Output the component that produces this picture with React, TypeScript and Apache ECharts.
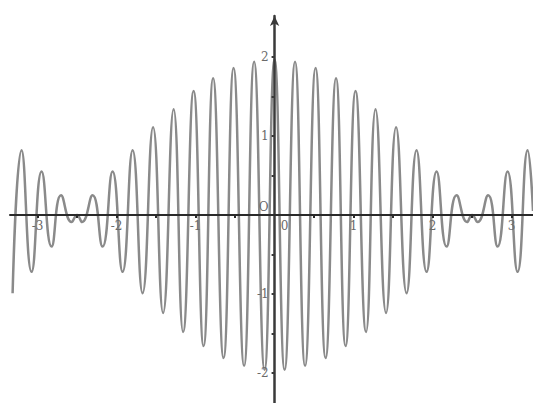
import React, { useEffect, useRef } from "react";
import * as echarts from "echarts";

// Extrema (and node points) of the curve, left to right
const curveX = [
  -3.316, -3.203, -3.076, -2.949, -2.823, -2.703, -2.57, -2.5, -2.437, -2.304, -2.177, -2.051,
  -1.924, -1.797, -1.671, -1.538, -1.411, -1.278, -1.158, -1.025, -0.899, -0.778, -0.646,
  -0.519, -0.386, -0.259, -0.127, 0, 0.127, 0.259, 0.386, 0.519, 0.646, 0.778, 0.899, 1.025,
  1.158, 1.278, 1.411, 1.538, 1.671, 1.797, 1.924, 2.051, 2.177, 2.304, 2.437, 2.5, 2.57,
  2.703, 2.823, 2.949, 3.076, 3.203, 3.271,
];
const curveY = [
  -0.99, 0.82, -0.72, 0.55, -0.4, 0.25, -0.09, 0, -0.09, 0.25, -0.4, 0.55, -0.72, 0.82, -0.99,
  1.11, -1.24, 1.34, -1.48, 1.57, -1.66, 1.73, -1.81, 1.86, -1.91, 1.94, -1.96, 1.97, -1.96,
  1.94, -1.91, 1.86, -1.81, 1.73, -1.66, 1.57, -1.48, 1.34, -1.24, 1.11, -0.99, 0.82, -0.72,
  0.55, -0.4, 0.25, -0.09, 0, -0.09, 0.25, -0.4, 0.55, -0.72, 0.82, 0.05,
];

const xLabelValues = [-3, -2, -1, 0, 1, 2, 3];
const yLabelValues = [-2, -1, 0, 1, 2];
const xTickValues = [-3, -2.5, -2, -1.5, -1, -0.5, 0.5, 1, 1.5, 2, 2.5, 3];
const yTickValues = [-2, -1.5, -1, -0.5, 0.5, 1, 1.5, 2];

const X_MIN = -3.349;
const X_MAX = 3.271;
const Y_MIN = -2.38;
const Y_MAX = 2.519;

export default function App() {
  const ref = useRef<HTMLDivElement>(null);
  useEffect(() => {
    if (!ref.current) return;
    const W = 533;
    const H = 403;
    const gl = 10, gr = 0, gt = 16, gb = 0;
    const chart = echarts.init(ref.current, null, { renderer: "svg" });
    const data = curveX.map((x, i) => [x, curveY[i]]);
    // place the axes through the origin (offset from the grid edges)
    const zeroXpx = gl + ((0 - X_MIN) / (X_MAX - X_MIN)) * (W - gl - gr);
    const zeroYpx = gt + ((Y_MAX - 0) / (Y_MAX - Y_MIN)) * (H - gt - gb);
    const yOffset = -(zeroXpx - gl);
    const xOffset = -(H - gb - zeroYpx);
    const labelStyle = {
      color: "#6a6a6a",
      fontFamily: "DejaVu Serif",
      fontSize: 12,
    };
    chart.setOption({
      animation: false,
      backgroundColor: "#ffffff",
      grid: { left: gl, right: gr, top: gt, bottom: gb, outerBoundsMode: "none", containLabel: false },
      xAxis: {
        type: "value",
        position: "bottom",
        offset: xOffset,
        min: X_MIN,
        max: X_MAX,
        z: 5,
        splitLine: { show: false },
        axisLine: { onZero: false, lineStyle: { color: "#2a2a2a", width: 2 } },
        axisTick: {
          show: true,
          customValues: xTickValues,
          length: 3,
          lineStyle: { color: "#2a2a2a", width: 2 },
        },
        axisLabel: {
          show: true,
          ...labelStyle,
          margin: 5,
          customValues: xLabelValues,
          formatter: (v: number) => (v === 0 ? "{z|0}" : String(v)),
          rich: { z: { ...labelStyle, padding: [0, 0, 0, 20] } },
        },
      },
      yAxis: {
        type: "value",
        position: "left",
        offset: yOffset,
        min: Y_MIN,
        max: Y_MAX,
        z: 5,
        splitLine: { show: false },
        axisLine: {
          onZero: false,
          symbol: ["none", "arrow"],
          symbolSize: [7, 10],
          lineStyle: { color: "#3a3a3a", width: 2.5 },
        },
        axisTick: {
          show: true,
          customValues: yTickValues,
          length: 3,
          lineStyle: { color: "#3a3a3a", width: 2 },
        },
        axisLabel: {
          show: true,
          ...labelStyle,
          margin: 6,
          customValues: yLabelValues,
          formatter: (v: number) => (v === 0 ? "{o|O}" : String(v)),
          rich: { o: { ...labelStyle, padding: [0, 0, 16, 0] } },
        },
      },
      series: [
        {
          type: "line",
          data,
          smooth: 0.5,
          showSymbol: false,
          z: 1,
          lineStyle: { color: "#8a8a8a", width: 2.5 },
        },
      ],
    });
    return () => chart.dispose();
  }, []);
  return (
    <div
      ref={ref}
      style={{ position: "fixed", left: 0, top: 0, width: 533, height: 403, background: "#fff" }}
    />
  );
}
